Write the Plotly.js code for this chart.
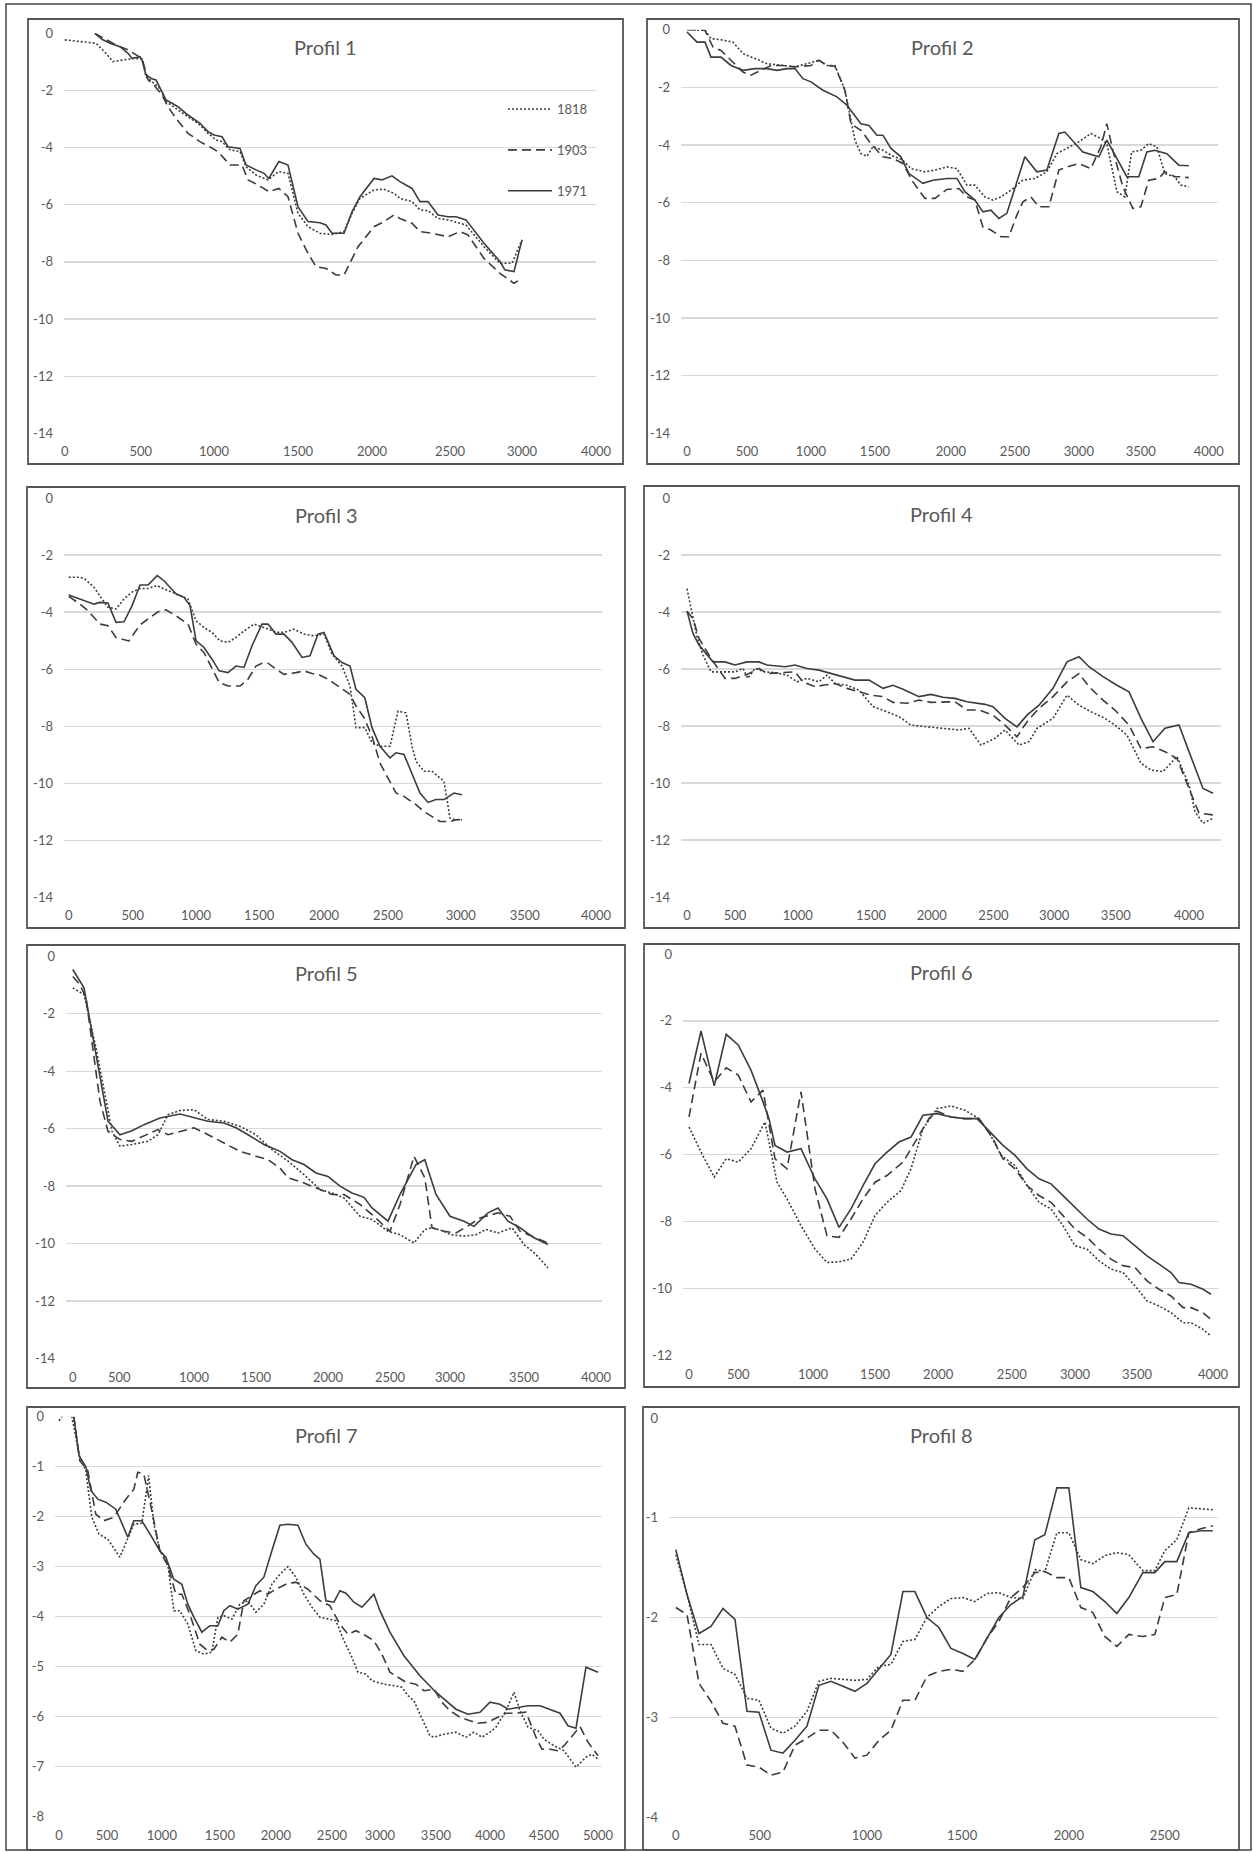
<!DOCTYPE html>
<html>
<head>
<meta charset="utf-8">
<script src="https://cdn.plot.ly/plotly-3.0.1.min.js"></script>
<style>
  html, body { margin: 0; padding: 0; background: #ffffff; }
  #chart { width: 1254px; height: 1852px; }
</style>
</head>
<body>
<div id="chart"></div>
<script>
// ---------------- DATA ----------------
// Series names
const years = ['1818', '1903', '1971'];

// x = position along the category axis, y = depth value
// Profil 1
const p1TickPos  = [162, 352, 535, 745, 930, 1125, 1305, 1490];
const p1TickText = ['0', '500', '1000', '1500', '2000', '2500', '3000', '4000'];
const p1x1818 = [162,200,240,265,282,310,335,355,365,380,400,415,440,470,500,520,540,555,575,600,615,640,670,697,720,745,770,800,830,860,880,900,935,960,985,1000,1030,1050,1070,1095,1120,1165,1210,1250,1280,1305];
const p1y1818 = [-0.23,-0.29,-0.35,-0.70,-0.99,-0.93,-0.88,-0.90,-1.52,-1.69,-1.93,-2.39,-2.63,-2.92,-3.21,-3.50,-3.73,-3.79,-4.08,-4.14,-4.67,-4.96,-5.13,-4.84,-4.90,-6.30,-6.77,-7.00,-7.04,-6.94,-6.30,-5.78,-5.48,-5.46,-5.60,-5.78,-5.89,-6.18,-6.21,-6.48,-6.53,-6.71,-7.47,-8.05,-8.05,-7.23];
const p1x1903 = [237,260,290,320,355,370,385,405,420,440,470,500,525,545,575,605,620,645,672,697,720,745,770,790,815,840,860,895,935,960,985,1000,1030,1050,1080,1120,1150,1170,1210,1250,1285,1305];
const p1y1903 = [0,-0.18,-0.41,-0.58,-0.88,-1.63,-1.81,-2.16,-2.57,-2.98,-3.50,-3.79,-3.97,-4.14,-4.61,-4.61,-5.13,-5.31,-5.54,-5.43,-5.72,-7.00,-7.70,-8.17,-8.23,-8.46,-8.46,-7.47,-6.77,-6.59,-6.36,-6.48,-6.65,-6.94,-7.00,-7.12,-6.94,-7.06,-7.88,-8.40,-8.75,-8.58];
const p1x1971 = [237,255,275,300,320,330,350,355,365,378,390,400,415,430,445,470,500,520,535,555,570,600,615,640,660,672,697,720,745,770,800,815,830,860,880,900,935,955,980,1000,1030,1050,1070,1095,1120,1140,1165,1210,1250,1262,1285,1305];
const p1y1971 = [0,-0.21,-0.35,-0.47,-0.70,-0.88,-0.82,-0.93,-1.46,-1.58,-1.63,-1.93,-2.33,-2.45,-2.57,-2.86,-3.15,-3.44,-3.56,-3.62,-3.97,-4.03,-4.61,-4.78,-4.90,-5.08,-4.49,-4.61,-6.07,-6.59,-6.63,-6.71,-7.00,-7.00,-6.25,-5.72,-5.08,-5.13,-4.99,-5.19,-5.43,-5.89,-5.89,-6.36,-6.42,-6.42,-6.53,-7.35,-7.99,-8.28,-8.34,-7.23];

// Profil 2
const p2TickPos  = [150, 300, 460, 620, 810, 970, 1130, 1285, 1455];
const p2TickText = ['0', '500', '1000', '1500', '2000', '2500', '3000', '3500', '4000'];
const p2x1818 = [175,195,210,235,265,290,320,350,390,420,450,480,500,520,545,570,585,600,615,640,660,690,710,745,770,800,825,850,870,895,915,935,960,990,1020,1050,1075,1100,1130,1160,1185,1200,1225,1245,1262,1285,1305,1325,1345,1370,1385,1405];
const p2y1818 = [-0.02,-0.02,-0.31,-0.35,-0.43,-0.83,-1.00,-1.18,-1.24,-1.29,-1.18,-1.06,-1.24,-1.24,-2.10,-3.83,-4.30,-4.39,-4.06,-4.18,-4.35,-4.53,-4.82,-4.93,-4.87,-4.76,-4.82,-5.39,-5.39,-5.80,-5.91,-5.80,-5.57,-5.22,-5.16,-4.93,-4.30,-4.12,-3.89,-3.60,-3.78,-3.95,-5.62,-5.80,-4.24,-4.18,-3.95,-4.06,-4.99,-5.10,-5.39,-5.45];
const p2x1903 = [150,175,195,215,235,260,290,310,335,360,390,420,460,480,500,520,545,560,585,610,640,665,690,715,745,770,800,830,850,870,890,910,935,955,975,990,1010,1030,1055,1080,1100,1130,1160,1185,1200,1215,1240,1265,1285,1305,1330,1345,1370,1385,1405];
const p2y1903 = [0,0,-0.02,-0.60,-0.72,-1.06,-1.47,-1.58,-1.41,-1.24,-1.24,-1.29,-1.24,-1.06,-1.24,-1.27,-2.10,-3.26,-3.49,-3.95,-4.41,-4.47,-4.64,-5.28,-5.85,-5.85,-5.54,-5.51,-5.80,-5.91,-6.84,-6.95,-7.18,-7.18,-6.43,-5.97,-5.80,-6.14,-6.14,-4.87,-4.76,-4.64,-4.82,-4.06,-3.26,-4.18,-5.45,-6.20,-6.14,-5.22,-5.16,-4.93,-5.10,-5.10,-5.13];
const p2x1971 = [150,175,195,210,235,260,290,320,350,375,400,420,440,460,490,525,550,585,605,625,640,660,685,705,740,765,800,825,845,870,890,910,930,950,995,1025,1050,1080,1095,1140,1180,1200,1250,1280,1300,1320,1350,1380,1405];
const p2y1971 = [-0.08,-0.43,-0.43,-0.95,-0.95,-1.24,-1.41,-1.35,-1.35,-1.41,-1.35,-1.35,-1.70,-1.81,-2.10,-2.33,-2.62,-3.26,-3.32,-3.66,-3.66,-4.12,-4.41,-4.99,-5.33,-5.22,-5.16,-5.16,-5.62,-5.91,-6.32,-6.26,-6.55,-6.37,-4.41,-4.93,-4.87,-3.60,-3.55,-4.24,-4.41,-3.83,-5.10,-5.10,-4.24,-4.18,-4.30,-4.70,-4.72];

// Profil 3
const p3TickPos  = [172, 332, 490, 648, 810, 970, 1152, 1312, 1490];
const p3TickText = ['0', '500', '1000', '1500', '2000', '2500', '3000', '3500', '4000'];
const p3x1818 = [172,200,212,235,255,270,290,310,330,350,370,393,410,440,470,490,510,530,550,570,590,610,635,660,690,710,735,760,785,810,830,855,875,890,912,930,950,975,995,1015,1030,1040,1060,1080,1110,1125,1140,1155];
const p3y1818 = [-2.78,-2.78,-2.84,-3.13,-3.54,-3.83,-3.89,-3.54,-3.30,-3.17,-3.17,-3.07,-3.19,-3.36,-3.54,-4.30,-4.54,-4.71,-5.01,-5.06,-4.89,-4.66,-4.42,-4.54,-4.71,-4.71,-4.60,-4.77,-4.83,-4.77,-5.47,-5.89,-6.59,-8.05,-8.05,-8.58,-8.70,-8.70,-7.47,-7.53,-8.70,-9.23,-9.58,-9.58,-9.93,-11.22,-11.28,-11.28];
const p3x1903 = [172,200,220,250,270,290,322,350,370,395,415,440,470,490,510,530,548,570,600,620,640,655,670,690,710,740,760,780,800,820,850,875,890,910,930,950,970,990,1010,1040,1060,1080,1100,1125,1140,1155];
const p3y1903 = [-3.45,-3.72,-3.95,-4.42,-4.48,-4.89,-5.01,-4.45,-4.24,-3.99,-3.92,-4.13,-4.42,-5.12,-5.42,-6.00,-6.47,-6.59,-6.59,-6.35,-5.89,-5.79,-5.79,-6.00,-6.18,-6.12,-6.06,-6.15,-6.21,-6.35,-6.64,-6.88,-7.29,-7.70,-8.35,-9.29,-9.82,-10.34,-10.46,-10.75,-10.99,-11.16,-11.34,-11.34,-11.28,-11.26];
const p3x1971 = [172,200,235,250,270,290,310,330,350,370,393,410,440,460,475,490,510,530,548,570,590,610,630,655,670,690,710,730,755,775,795,810,835,855,875,890,912,930,950,975,990,1010,1030,1050,1070,1090,1110,1135,1155];
const p3y1971 = [-3.40,-3.54,-3.72,-3.66,-3.68,-4.36,-4.34,-3.78,-3.05,-3.05,-2.72,-2.90,-3.36,-3.48,-3.77,-5.00,-5.24,-5.65,-6.06,-6.12,-5.89,-5.94,-5.18,-4.42,-4.42,-4.77,-4.77,-5.06,-5.59,-5.53,-4.77,-4.71,-5.53,-5.77,-5.89,-6.71,-7.00,-8.05,-8.70,-9.11,-8.93,-8.99,-9.64,-10.34,-10.67,-10.57,-10.57,-10.34,-10.40];

// Profil 4
const p4TickPos  = [150, 270, 427, 610, 762, 916, 1068, 1222, 1405];
const p4TickText = ['0', '500', '1000', '1500', '2000', '2500', '3000', '3500', '4000'];
const p4x1818 = [150,160,175,190,210,240,270,290,302,320,345,370,400,425,450,480,500,520,550,580,615,650,680,710,750,800,830,855,885,920,945,980,1005,1025,1065,1100,1130,1160,1195,1220,1250,1285,1310,1340,1375,1405,1420,1440,1465];
const p4y1818 = [-3.18,-3.88,-4.87,-5.51,-6.10,-6.10,-6.10,-5.98,-6.33,-5.98,-6.10,-6.13,-6.21,-6.45,-6.33,-6.45,-6.21,-6.51,-6.57,-6.74,-7.32,-7.50,-7.67,-7.97,-8.03,-8.08,-8.14,-8.08,-8.67,-8.43,-8.14,-8.67,-8.55,-8.08,-7.73,-6.92,-7.27,-7.50,-7.73,-7.97,-8.32,-9.31,-9.55,-9.60,-9.07,-10.07,-11.00,-11.41,-11.24];
const p4x1903 = [150,165,180,210,245,270,300,330,350,395,420,440,470,490,520,550,580,610,640,665,700,730,760,790,820,850,880,915,945,975,1000,1030,1065,1100,1130,1155,1190,1220,1255,1285,1315,1345,1375,1405,1430,1465];
const p4y1903 = [-3.97,-4.23,-4.93,-5.63,-6.33,-6.33,-6.19,-5.98,-6.16,-6.12,-6.10,-6.45,-6.62,-6.57,-6.51,-6.68,-6.80,-6.92,-6.97,-7.17,-7.20,-7.09,-7.17,-7.15,-7.15,-7.44,-7.44,-7.62,-7.97,-8.38,-7.85,-7.38,-6.97,-6.45,-6.16,-6.62,-7.09,-7.44,-7.97,-8.79,-8.73,-8.90,-9.14,-10.19,-11.06,-11.12];
const p4x1971 = [150,165,180,215,245,270,300,330,350,395,420,450,480,510,540,570,605,640,665,690,730,760,790,820,850,870,895,915,945,975,1000,1030,1065,1100,1130,1155,1190,1225,1255,1285,1315,1345,1380,1405,1440,1465];
const p4y1971 = [-3.97,-4.75,-5.16,-5.75,-5.75,-5.86,-5.75,-5.75,-5.86,-5.92,-5.86,-5.98,-6.04,-6.16,-6.27,-6.39,-6.39,-6.68,-6.57,-6.71,-6.97,-6.89,-6.99,-7.03,-7.15,-7.20,-7.24,-7.32,-7.73,-8.03,-7.62,-7.27,-6.68,-5.75,-5.57,-5.92,-6.27,-6.57,-6.80,-7.73,-8.55,-8.08,-7.96,-8.90,-10.19,-10.36];

// Profil 5
const p5TickPos  = [182, 298, 485, 640, 820, 975, 1125, 1310, 1490];
const p5TickText = ['0', '500', '1000', '1500', '2000', '2500', '3000', '3500', '4000'];
const p5x1818 = [182,210,240,260,280,300,330,370,395,420,450,485,520,560,600,640,680,720,760,800,830,860,900,930,970,1000,1035,1062,1080,1110,1125,1160,1190,1215,1245,1280,1310,1340,1370];
const p5y1818 = [-1.10,-1.33,-3.19,-4.58,-6.09,-6.61,-6.55,-6.44,-6.21,-5.51,-5.37,-5.34,-5.68,-5.74,-5.92,-6.21,-6.73,-7.13,-7.60,-8.12,-8.24,-8.41,-9.05,-9.16,-9.57,-9.69,-9.98,-9.51,-9.45,-9.57,-9.69,-9.74,-9.69,-9.51,-9.63,-9.45,-10.03,-10.38,-10.85];
const p5x1903 = [182,200,215,235,250,270,300,330,360,395,420,450,485,520,560,600,640,670,700,720,760,790,830,860,900,930,975,1000,1035,1062,1080,1110,1140,1175,1200,1245,1275,1300,1340,1370];
const p5y1903 = [-0.70,-0.99,-1.45,-3.42,-5.05,-6.09,-6.38,-6.44,-6.26,-6.03,-6.21,-6.09,-5.97,-6.21,-6.50,-6.79,-6.96,-7.08,-7.37,-7.71,-7.89,-8.06,-8.29,-8.29,-8.64,-8.99,-9.57,-8.64,-6.96,-7.71,-9.45,-9.57,-9.63,-9.34,-9.11,-8.93,-9.05,-9.57,-9.80,-9.98];
const p5x1971 = [182,210,225,250,270,300,330,360,400,450,490,520,560,590,620,660,700,730,760,790,820,850,880,910,930,970,1000,1040,1062,1090,1125,1160,1185,1220,1245,1270,1300,1335,1370];
const p5y1971 = [-0.46,-1.10,-2.26,-4.12,-5.74,-6.21,-6.07,-5.86,-5.63,-5.49,-5.63,-5.74,-5.80,-5.97,-6.21,-6.55,-6.79,-7.08,-7.25,-7.54,-7.66,-8.00,-8.24,-8.39,-8.76,-9.22,-8.29,-7.25,-7.08,-8.29,-9.05,-9.22,-9.40,-8.93,-8.76,-9.22,-9.45,-9.80,-10.03];

// Profil 6
const p6TickPos  = [155, 278, 465, 620, 778, 962, 1120, 1275, 1465];
const p6TickText = ['0', '500', '1000', '1500', '2000', '2500', '3000', '3500', '4000'];
const p6x1818 = [155,185,218,248,278,310,345,375,400,435,470,500,530,560,590,620,650,685,710,740,775,810,845,880,905,935,970,1000,1030,1060,1090,1120,1150,1180,1210,1240,1270,1300,1330,1360,1390,1410,1440,1460];
const p6y1818 = [-5.17,-5.92,-6.67,-6.12,-6.22,-5.82,-5.02,-6.82,-7.32,-8.12,-8.82,-9.22,-9.20,-9.12,-8.62,-7.82,-7.42,-7.07,-6.42,-5.22,-4.62,-4.54,-4.67,-4.92,-5.32,-6.02,-6.32,-6.92,-7.42,-7.62,-8.12,-8.72,-8.82,-9.17,-9.42,-9.52,-9.92,-10.37,-10.52,-10.72,-11.02,-11.02,-11.22,-11.42];
const p6x1903 = [155,185,218,248,278,310,340,370,400,435,470,500,530,560,590,620,650,690,720,755,775,810,845,880,915,940,970,1000,1030,1060,1090,1120,1150,1180,1210,1240,1270,1300,1330,1360,1390,1410,1440,1460];
const p6y1903 = [-4.87,-2.97,-3.82,-3.40,-3.62,-4.42,-4.07,-6.12,-6.42,-4.12,-7.02,-8.42,-8.47,-7.92,-7.32,-6.82,-6.62,-6.22,-5.62,-4.92,-4.70,-4.87,-4.92,-4.92,-5.52,-6.12,-6.42,-6.92,-7.22,-7.42,-7.82,-8.22,-8.47,-8.82,-9.12,-9.32,-9.37,-9.77,-10.02,-10.22,-10.57,-10.57,-10.72,-10.92];
const p6x1971 = [155,185,218,248,278,310,340,355,370,400,435,470,500,530,560,590,620,650,680,710,740,775,810,845,875,900,940,970,1000,1030,1060,1090,1120,1150,1180,1210,1240,1270,1300,1330,1360,1380,1410,1440,1460];
const p6y1971 = [-3.87,-2.30,-3.94,-2.40,-2.72,-3.47,-4.42,-4.92,-5.72,-5.92,-5.82,-6.72,-7.32,-8.17,-7.62,-6.92,-6.27,-5.92,-5.62,-5.47,-4.82,-4.77,-4.87,-4.92,-4.92,-5.22,-5.72,-6.02,-6.42,-6.72,-6.87,-7.22,-7.57,-7.92,-8.22,-8.37,-8.42,-8.72,-9.02,-9.27,-9.52,-9.82,-9.87,-10.02,-10.17];

// Profil 7
const p7TickPos  = [148, 268, 405, 550, 690, 830, 950, 1090, 1225, 1360, 1495];
const p7TickText = ['0', '500', '1000', '1500', '2000', '2500', '3000', '3500', '4000', '4500', '5000'];
const p7x1818 = [148,160,180,200,215,230,248,270,300,335,355,372,385,400,420,435,450,470,490,510,530,545,560,580,600,620,640,660,680,700,720,740,760,780,800,825,840,860,880,895,915,930,960,985,1005,1020,1035,1050,1075,1085,1110,1140,1165,1185,1205,1225,1240,1265,1285,1300,1320,1345,1360,1385,1410,1440,1465,1480,1495];
const p7y1818 = [-0.08,0.05,0,-0.81,-1.08,-2.01,-2.35,-2.45,-2.81,-2.15,-2.13,-1.18,-2.15,-2.68,-2.95,-3.88,-3.88,-4.15,-4.68,-4.75,-4.71,-4.01,-3.98,-4.05,-3.75,-3.68,-3.91,-3.75,-3.35,-3.15,-3.00,-3.21,-3.55,-3.81,-4.01,-4.05,-4.08,-4.48,-4.81,-5.11,-5.15,-5.28,-5.35,-5.38,-5.41,-5.58,-5.68,-5.95,-6.38,-6.41,-6.35,-6.31,-6.41,-6.31,-6.41,-6.31,-6.21,-5.88,-5.51,-5.88,-6.21,-6.28,-6.45,-6.58,-6.68,-7.01,-6.81,-6.75,-6.85];
const p7x1903 = [185,200,220,240,260,285,315,335,345,360,380,400,420,440,455,475,500,520,535,555,575,595,610,630,650,670,690,715,740,770,800,825,850,870,890,915,935,955,975,995,1015,1040,1060,1085,1105,1125,1150,1175,1195,1220,1245,1265,1290,1315,1340,1355,1375,1395,1410,1435,1450,1470,1495];
const p7y1903 = [0,-0.88,-1.08,-1.95,-2.08,-2.01,-1.65,-1.45,-1.11,-1.15,-1.88,-2.68,-2.98,-3.55,-3.55,-3.95,-4.55,-4.68,-4.65,-4.41,-4.51,-4.35,-3.68,-3.58,-3.48,-3.55,-3.45,-3.35,-3.31,-3.45,-3.68,-3.78,-4.15,-4.35,-4.28,-4.38,-4.48,-4.75,-5.11,-5.21,-5.31,-5.35,-5.48,-5.45,-5.71,-5.88,-6.01,-6.08,-6.13,-6.11,-6.01,-5.93,-5.93,-5.91,-6.41,-6.65,-6.65,-6.68,-6.58,-6.35,-6.20,-6.51,-6.78];
const p7x1971 = [185,198,215,228,245,265,290,320,335,355,380,400,415,435,455,470,485,505,525,545,560,575,595,620,640,660,680,700,720,745,765,785,800,815,835,850,865,885,905,935,950,975,1010,1050,1090,1140,1170,1200,1225,1250,1270,1320,1350,1400,1420,1440,1465,1495];
const p7y1971 = [0,-0.78,-1.00,-1.48,-1.65,-1.71,-1.85,-2.41,-2.08,-2.08,-2.41,-2.68,-2.81,-3.25,-3.35,-3.75,-4.01,-4.31,-4.18,-4.18,-3.88,-3.78,-3.85,-3.75,-3.38,-3.21,-2.68,-2.17,-2.15,-2.17,-2.55,-2.75,-2.85,-3.68,-3.71,-3.48,-3.53,-3.71,-3.81,-3.55,-3.88,-4.31,-4.78,-5.18,-5.51,-5.85,-5.95,-5.91,-5.71,-5.75,-5.85,-5.78,-5.78,-5.93,-6.18,-6.23,-5.01,-5.11];

// Profil 8
const p8TickPos  = [122, 332, 600, 838, 1105, 1345];
const p8TickText = ['0', '500', '1000', '1500', '2000', '2500'];
const p8x = [122,150,180,210,240,270,300,330,360,390,420,450,480,510,540,570,600,630,660,690,720,750,780,810,840,870,900,930,960,990,1020,1045,1075,1105,1135,1165,1195,1225,1255,1290,1320,1345,1375,1405,1435,1465];
const p8y1818 = [-1.37,-1.77,-2.27,-2.27,-2.51,-2.57,-2.81,-2.83,-3.11,-3.16,-3.09,-2.94,-2.64,-2.61,-2.62,-2.63,-2.62,-2.49,-2.47,-2.24,-2.22,-2.00,-1.89,-1.81,-1.80,-1.84,-1.76,-1.75,-1.80,-1.81,-1.52,-1.54,-1.15,-1.15,-1.42,-1.46,-1.38,-1.35,-1.37,-1.53,-1.53,-1.33,-1.22,-0.90,-0.91,-0.92];
const p8y1903 = [-1.90,-1.97,-2.66,-2.84,-3.06,-3.09,-3.48,-3.50,-3.58,-3.55,-3.28,-3.21,-3.13,-3.13,-3.25,-3.41,-3.38,-3.23,-3.13,-2.83,-2.83,-2.59,-2.54,-2.52,-2.54,-2.42,-2.21,-2.04,-1.80,-1.70,-1.55,-1.54,-1.60,-1.60,-1.90,-1.95,-2.19,-2.29,-2.17,-2.19,-2.17,-1.80,-1.77,-1.15,-1.11,-1.08];
const p8y1971 = [-1.32,-1.77,-2.16,-2.09,-1.91,-2.02,-2.94,-2.95,-3.33,-3.36,-3.23,-3.09,-2.68,-2.64,-2.69,-2.74,-2.66,-2.51,-2.37,-1.74,-1.74,-2.00,-2.10,-2.31,-2.36,-2.42,-2.21,-2.00,-1.87,-1.79,-1.22,-1.17,-0.70,-0.70,-1.70,-1.74,-1.84,-1.96,-1.80,-1.55,-1.55,-1.44,-1.44,-1.15,-1.13,-1.13];

// ---------------- LAYOUT / STYLE ----------------
const W = 1254, H = 1852;
const FONT = 'Lato, "Open Sans", "Liberation Sans", sans-serif';
const GREY = '#595959';
const LINE = '#3c3c3c';
const dashFor = { '1818': '2px,2px', '1903': '9px,5px', '1971': 'solid' };

// geometry in page pixels: plot area (gridline span) and panel box
const panels = [
  { title: 'Profil 1', xs: [p1x1818, p1x1903, p1x1971], ys: [p1y1818, p1y1903, p1y1971], tp: p1TickPos, tt: p1TickText,
    xr: [160, 1490], area: [64, 596, 33.3, 433.3], yr: [-14, 0], dt: 2, box: [28, 623, 19, 464] },
  { title: 'Profil 2', xs: [p2x1818, p2x1903, p2x1971], ys: [p2y1818, p2y1903, p2y1971], tp: p2TickPos, tt: p2TickText,
    xr: [135, 1478], area: [681, 1218, 29.7, 433.3], yr: [-14, 0], dt: 2, box: [647, 1239, 19, 464] },
  { title: 'Profil 3', xs: [p3x1818, p3x1903, p3x1971], ys: [p3y1818, p3y1903, p3y1971], tp: p3TickPos, tt: p3TickText,
    xr: [160, 1505], area: [64, 602, 498, 897.4], yr: [-14, 0], dt: 2, box: [27, 625, 487, 928] },
  { title: 'Profil 4', xs: [p4x1818, p4x1903, p4x1971], ys: [p4y1818, p4y1903, p4y1971], tp: p4TickPos, tt: p4TickText,
    xr: [135, 1485], area: [681, 1221, 498, 897], yr: [-14, 0], dt: 2, box: [644, 1239, 486, 928] },
  { title: 'Profil 5', xs: [p5x1818, p5x1903, p5x1971], ys: [p5y1818, p5y1903, p5y1971], tp: p5TickPos, tt: p5TickText,
    xr: [165, 1505], area: [66, 602, 956.3, 1358.5], yr: [-14, 0], dt: 2, box: [27, 625, 945, 1388] },
  { title: 'Profil 6', xs: [p6x1818, p6x1903, p6x1971], ys: [p6y1818, p6y1903, p6y1971], tp: p6TickPos, tt: p6TickText,
    xr: [140, 1480], area: [683, 1219, 954, 1355.5], yr: [-12, 0], dt: 2, box: [644, 1239, 944, 1387] },
  { title: 'Profil 7', xs: [p7x1818, p7x1903, p7x1971], ys: [p7y1818, p7y1903, p7y1971], tp: p7TickPos, tt: p7TickText,
    xr: [138, 1505], area: [55, 602, 1416.7, 1816.7], yr: [-8, 0], dt: 1, box: [27, 625, 1407, 1850] },
  { title: 'Profil 8', xs: [p8x, p8x, p8x], ys: [p8y1818, p8y1903, p8y1971], tp: p8TickPos, tt: p8TickText,
    xr: [105, 1478], area: [669, 1218, 1418, 1817], yr: [-4, 0], dt: 1, box: [643, 1239, 1407, 1850] }
];

const traces = [];
const layout = {
  width: W, height: H,
  margin: { l: 0, r: 0, t: 0, b: 0, pad: 0 },
  paper_bgcolor: '#ffffff', plot_bgcolor: 'rgba(0,0,0,0)',
  font: { family: FONT, color: GREY, size: 13 },
  showlegend: true,
  legend: {
    x: 503 / W, y: 1 - 94 / H, xanchor: 'left', yanchor: 'top',
    bgcolor: 'rgba(0,0,0,0)', borderwidth: 0,
    font: { family: FONT, size: 13, color: GREY },
    itemwidth: 44, tracegroupgap: 21, traceorder: 'grouped', itemclick: false
  },
  shapes: [], annotations: []
};

// outer frame
layout.shapes.push({ type: 'rect', xref: 'paper', yref: 'paper', layer: 'above',
  x0: 6 / W, x1: 1251 / W, y0: 1 - 1850 / H, y1: 1 - 4 / H, line: { color: '#444444', width: 1.5 } });

panels.forEach((p, i) => {
  const n = i === 0 ? '' : String(i + 1);
  const xa = 'x' + n, ya = 'y' + n;
  const [l, r, t, b] = p.area;
  layout['xaxis' + n] = {
    domain: [l / W, r / W], range: p.xr, anchor: ya,
    showgrid: false, zeroline: false, showline: false, ticks: '',
    tickmode: 'array', tickvals: p.tp, ticktext: p.tt, ticklabelstandoff: 9,
    tickfont: { family: FONT, size: 13, color: GREY }, fixedrange: true
  };
  const tv = [], tt = [];
  for (let v = 0; v >= p.yr[0]; v -= p.dt) { tv.push(v); tt.push(String(v)); }
  layout['yaxis' + n] = {
    domain: [1 - b / H, 1 - t / H], range: p.yr, anchor: xa,
    showgrid: true, gridcolor: '#d9d9d9', gridwidth: 1.3, zeroline: false, showline: false, ticks: '',
    tickmode: 'array', tickvals: tv, ticktext: tt, ticklabelstandoff: 10,
    tickfont: { family: FONT, size: 13, color: GREY }, fixedrange: true
  };
  years.forEach((yr, k) => {
    traces.push({
      type: 'scatter', mode: 'lines', name: yr, x: p.xs[k], y: p.ys[k],
      xaxis: xa, yaxis: ya, legendgroup: 'g' + yr, showlegend: i === 0,
      line: { color: LINE, width: 1.6, dash: dashFor[yr] }, hoverinfo: 'skip'
    });
  });
  const [bx0, bx1, by0, by1] = p.box;
  layout.shapes.push({ type: 'rect', xref: 'paper', yref: 'paper', layer: 'above',
    x0: bx0 / W, x1: bx1 / W, y0: 1 - by1 / H, y1: 1 - by0 / H, line: { color: '#555555', width: 1.8 } });
  layout.annotations.push({ xref: 'paper', yref: 'paper', x: (bx0 + bx1) / 2 / W, y: 1 - (by0 + 28) / H,
    xanchor: 'center', yanchor: 'middle', showarrow: false, text: p.title,
    font: { family: FONT, size: 20, color: GREY } });
});

Plotly.newPlot('chart', traces, layout, { staticPlot: true, displayModeBar: false });
</script>
</body>
</html>
